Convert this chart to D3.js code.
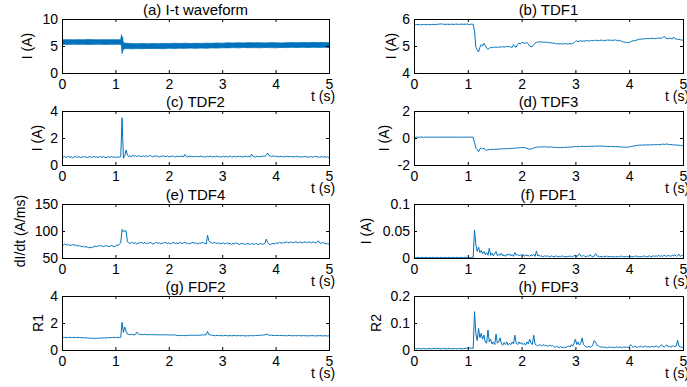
<!DOCTYPE html>
<html>
<head>
<meta charset="utf-8">
<script src="https://cdn.jsdelivr.net/npm/d3@7"></script>
<style>
  html, body { margin: 0; padding: 0; background: #fff; }
  svg { display: block; font-family: "Liberation Sans", Arial, Helvetica, sans-serif; }
</style>
</head>
<body>
<svg id="chart" width="687" height="387"></svg>
<script>
// (a) raw waveform, drawn as the envelope of the noisy band
const waveTime = [0, 0.1, 0.2, 0.3, 0.4, 0.5, 0.6, 0.7, 0.8, 0.9, 1.0, 1.1,
  1.115, 1.125, 1.135, 1.145, 1.16, 1.18, 1.2,
  1.3, 1.4, 1.5, 1.6, 1.7, 1.8, 1.9, 2.0, 2.1, 2.2, 2.3, 2.4, 2.5, 2.6, 2.7, 2.8, 2.9, 3.0, 3.1,
  3.2, 3.3, 3.4, 3.5, 3.6, 3.7, 3.8, 3.9, 4.0, 4.1, 4.2, 4.3, 4.4, 4.5, 4.6, 4.7, 4.8, 4.9, 5.0];
const waveUpper = [6.15, 6.18, 6.14, 6.17, 6.15, 6.19, 6.16, 6.14, 6.18, 6.15, 6.17, 6.16,
  7.1, 6.3, 6.7, 5.7, 5.6, 5.5, 5.5,
  5.45, 5.42, 5.45, 5.40, 5.44, 5.42, 5.47, 5.45, 5.50, 5.47, 5.52, 5.45, 5.50, 5.48, 5.53, 5.50, 5.55, 5.52, 5.58,
  5.55, 5.60, 5.57, 5.62, 5.58, 5.60, 5.56, 5.62, 5.60, 5.55, 5.60, 5.63, 5.60, 5.65, 5.62, 5.66, 5.63, 5.65, 5.62];
const waveLower = [5.32, 5.30, 5.34, 5.31, 5.33, 5.29, 5.32, 5.34, 5.30, 5.33, 5.31, 5.32,
  5.0, 3.6, 4.0, 4.3, 4.45, 4.5, 4.55,
  4.48, 4.52, 4.50, 4.55, 4.52, 4.56, 4.50, 4.58, 4.55, 4.60, 4.57, 4.62, 4.58, 4.63, 4.60, 4.65, 4.62, 4.68, 4.65,
  4.70, 4.66, 4.72, 4.68, 4.70, 4.67, 4.72, 4.70, 4.66, 4.73, 4.70, 4.75, 4.72, 4.76, 4.73, 4.77, 4.74, 4.76, 4.73];

// the other series are sampled every 0.025 s from 0 to 5 s
const tdf1 = [
  5.78,5.79,5.79,5.80,5.79,5.78,5.79,5.80,5.80,5.79,5.79,5.80,5.79,5.79,5.80,5.80,5.79,5.80,5.81,5.81,
  5.82,5.81,5.81,5.80,5.80,5.81,5.80,5.80,5.81,5.80,5.80,5.81,5.81,5.80,5.80,5.81,5.81,5.80,5.81,5.81,
  5.81,5.80,5.80,5.81,5.80,5.55,4.95,4.85,4.78,4.95,5.05,5.00,5.10,5.02,4.92,4.88,4.92,4.95,4.93,4.96,
  4.95,4.97,4.94,4.96,4.97,4.95,4.98,4.96,4.97,4.99,4.97,4.98,4.96,4.95,5.05,4.98,4.96,5.06,5.10,5.08,
  5.12,5.13,5.10,5.11,5.12,5.08,5.00,4.97,4.98,5.05,5.10,5.13,5.15,5.14,5.16,5.15,5.14,5.15,5.13,5.14,
  5.13,5.12,5.12,5.10,5.11,5.09,5.08,5.09,5.07,5.08,5.08,5.07,5.09,5.08,5.07,5.08,5.09,5.08,5.10,5.12,
  5.17,5.19,5.16,5.18,5.20,5.17,5.19,5.18,5.20,5.19,5.18,5.20,5.21,5.19,5.20,5.22,5.19,5.21,5.20,5.22,
  5.21,5.19,5.22,5.20,5.23,5.21,5.22,5.20,5.22,5.21,5.23,5.20,5.19,5.21,5.18,5.16,5.15,5.14,5.13,5.12,
  5.13,5.15,5.18,5.20,5.19,5.21,5.23,5.24,5.26,5.25,5.26,5.27,5.26,5.28,5.27,5.28,5.27,5.29,5.28,5.27,
  5.28,5.29,5.30,5.28,5.29,5.31,5.36,5.30,5.28,5.27,5.29,5.28,5.26,5.33,5.27,5.26,5.25,5.24,5.23,5.22,5.22];

const tdf2 = [
  0.62,0.58,0.65,0.55,0.60,0.63,0.57,0.61,0.52,0.59,0.64,0.56,0.60,0.62,0.55,0.58,0.63,0.57,0.61,0.54,
  0.60,0.62,0.56,0.59,0.64,0.58,0.61,0.55,0.60,0.63,0.57,0.62,0.59,0.53,0.60,0.61,0.56,0.62,0.58,0.60,
  0.57,0.55,0.60,0.58,0.62,3.50,0.50,0.70,1.10,0.75,0.62,0.68,0.60,0.72,0.64,0.70,0.62,0.66,0.71,0.60,
  0.65,0.68,0.62,0.70,0.61,0.66,0.72,0.63,0.60,0.67,0.64,0.69,0.62,0.58,0.66,0.63,0.70,0.61,0.64,0.67,
  0.60,0.65,0.62,0.68,0.63,0.59,0.66,0.61,0.64,0.62,0.67,0.60,0.78,0.63,0.58,0.65,0.62,0.66,0.60,0.64,
  0.61,0.66,0.59,0.63,0.68,0.60,0.64,0.57,0.62,0.65,0.60,0.67,0.62,0.59,0.64,0.61,0.66,0.60,0.63,0.58,
  0.62,0.66,0.60,0.64,0.58,0.63,0.67,0.61,0.59,0.65,0.62,0.60,0.66,0.61,0.64,0.58,0.63,0.62,0.66,0.60,
  0.64,0.61,0.80,0.65,0.62,0.58,0.66,0.63,0.60,0.65,0.62,0.68,0.64,0.72,0.88,0.70,0.66,0.63,0.68,0.64,
  0.66,0.61,0.64,0.60,0.65,0.62,0.58,0.63,0.61,0.66,0.60,0.64,0.62,0.59,0.63,0.61,0.65,0.60,0.62,0.58,
  0.62,0.60,0.64,0.59,0.61,0.57,0.63,0.60,0.58,0.62,0.65,0.59,0.61,0.56,0.60,0.63,0.58,0.62,0.57,0.60,0.55];

const tdf3 = [
  0.04,0.05,0.06,0.05,0.06,0.07,0.06,0.05,0.06,0.06,0.07,0.06,0.06,0.07,0.06,0.06,0.07,0.06,0.06,0.07,
  0.07,0.06,0.06,0.07,0.06,0.06,0.06,0.07,0.06,0.06,0.06,0.07,0.06,0.06,0.07,0.06,0.06,0.06,0.07,0.06,
  0.06,0.06,0.07,0.06,0.06,-0.35,-0.75,-0.85,-1.02,-0.80,-0.72,-0.82,-0.75,-0.88,-0.92,-0.85,-0.88,-0.84,-0.86,-0.83,
  -0.85,-0.82,-0.84,-0.80,-0.83,-0.81,-0.79,-0.82,-0.78,-0.80,-0.76,-0.79,-0.77,-0.75,-0.78,-0.74,-0.76,-0.72,-0.74,-0.71,
  -0.70,-0.72,-0.71,-0.73,-0.76,-0.80,-0.83,-0.82,-0.78,-0.74,-0.70,-0.68,-0.66,-0.68,-0.67,-0.65,-0.66,-0.64,-0.66,-0.67,
  -0.68,-0.66,-0.67,-0.69,-0.70,-0.68,-0.71,-0.70,-0.72,-0.70,-0.71,-0.69,-0.70,-0.68,-0.69,-0.67,-0.66,-0.68,-0.66,-0.64,
  -0.63,-0.65,-0.62,-0.64,-0.63,-0.61,-0.63,-0.62,-0.64,-0.62,-0.61,-0.63,-0.60,-0.62,-0.61,-0.60,-0.62,-0.60,-0.59,-0.61,
  -0.60,-0.62,-0.61,-0.63,-0.62,-0.64,-0.63,-0.62,-0.64,-0.63,-0.65,-0.64,-0.66,-0.65,-0.67,-0.66,-0.68,-0.67,-0.69,-0.67,
  -0.66,-0.64,-0.62,-0.60,-0.58,-0.56,-0.55,-0.53,-0.52,-0.54,-0.52,-0.51,-0.53,-0.51,-0.50,-0.52,-0.50,-0.49,-0.51,-0.50,
  -0.49,-0.50,-0.48,-0.50,-0.47,-0.45,-0.48,-0.46,-0.44,-0.47,-0.49,-0.48,-0.50,-0.52,-0.50,-0.53,-0.52,-0.54,-0.55,-0.56,-0.57];

const tdf4 = [
  75,74,76,75,74,75,73,74,75,74,73,74,72,73,72,71,72,70,71,70,
  69,70,69,70,71,72,71,73,72,73,72,71,72,73,72,71,72,73,72,71,
  72,74,73,76,78,103,98,101,100,80,78,77,79,78,77,78,76,78,77,79,
  78,77,79,76,78,77,79,78,76,77,78,79,77,78,76,78,77,79,78,77,
  78,76,77,79,78,77,78,76,79,78,77,78,79,77,78,76,77,78,79,77,
  78,77,76,78,77,79,78,77,76,92,82,79,78,77,79,78,77,78,76,77,
  77,78,76,77,78,76,77,75,77,76,78,77,76,75,77,76,77,75,76,77,
  76,75,77,76,75,77,76,75,76,77,75,76,77,85,79,76,75,76,77,76,
  77,78,77,79,78,77,79,78,80,79,78,79,80,78,79,80,79,78,80,79,
  78,79,80,79,78,80,79,78,80,79,78,79,82,78,77,79,78,77,76,77,75];

const fdf1 = [
  0.001,0.0008,0.0012,0.001,0.0009,0.0011,0.001,0.0008,0.0012,0.001,0.0009,0.0011,0.001,0.0008,0.0012,0.001,0.0009,0.0011,0.001,0.0008,
  0.0012,0.001,0.0009,0.0011,0.001,0.0008,0.0012,0.001,0.0009,0.0011,0.001,0.0008,0.0012,0.001,0.0009,0.0011,0.001,0.0008,0.0012,0.001,
  0.0009,0.0011,0.001,0.0012,0.001,0.052,0.025,0.012,0.020,0.010,0.014,0.008,0.012,0.006,0.010,0.005,0.018,0.005,0.009,0.004,
  0.008,0.012,0.004,0.007,0.005,0.009,0.004,0.006,0.003,0.007,0.005,0.008,0.004,0.006,0.003,0.010,0.005,0.007,0.004,0.006,
  0.004,0.007,0.003,0.006,0.004,0.005,0.003,0.006,0.004,0.007,0.003,0.013,0.004,0.005,0.003,0.004,0.002,0.004,0.003,0.004,
  0.003,0.002,0.004,0.003,0.002,0.003,0.004,0.002,0.003,0.002,0.004,0.003,0.002,0.003,0.002,0.003,0.004,0.002,0.003,0.004,
  0.005,0.003,0.004,0.008,0.004,0.003,0.005,0.003,0.002,0.004,0.003,0.006,0.003,0.002,0.004,0.008,0.004,0.003,0.002,0.003,
  0.002,0.003,0.002,0.004,0.002,0.003,0.002,0.003,0.002,0.002,0.003,0.002,0.003,0.002,0.004,0.002,0.003,0.002,0.003,0.002,
  0.003,0.002,0.003,0.002,0.003,0.004,0.002,0.003,0.002,0.003,0.002,0.004,0.003,0.002,0.003,0.004,0.002,0.003,0.004,0.003,
  0.004,0.003,0.005,0.003,0.004,0.003,0.005,0.004,0.003,0.005,0.004,0.003,0.005,0.004,0.006,0.003,0.005,0.007,0.003,0.005,0.004];

const fdf2 = [
  0.93,0.92,0.94,0.93,0.92,0.93,0.94,0.92,0.93,0.92,0.93,0.94,0.92,0.93,0.91,0.92,0.90,0.91,0.90,0.89,
  0.88,0.87,0.88,0.86,0.87,0.86,0.87,0.88,0.87,0.88,0.89,0.90,0.89,0.90,0.91,0.92,0.91,0.92,0.93,0.92,
  0.93,0.92,0.94,0.93,0.94,2.05,1.30,1.70,1.40,1.18,1.15,1.13,1.16,1.14,1.12,1.15,1.32,1.20,1.16,1.14,
  1.15,1.13,1.16,1.14,1.12,1.15,1.13,1.14,1.12,1.15,1.13,1.11,1.14,1.12,1.13,1.11,1.14,1.12,1.13,1.11,
  1.12,1.10,1.13,1.11,1.12,1.10,1.08,1.07,1.08,1.06,1.07,1.08,1.06,1.07,1.09,1.08,1.10,1.09,1.10,1.08,
  1.09,1.10,1.08,1.09,1.10,1.12,1.11,1.13,1.12,1.38,1.15,1.12,1.10,1.09,1.07,1.06,1.08,1.07,1.06,1.08,
  1.05,1.06,1.08,1.07,1.05,1.06,1.07,1.05,1.06,1.08,1.06,1.05,1.07,1.06,1.05,1.07,1.06,1.05,1.04,1.06,
  1.05,1.06,1.07,1.05,1.06,1.08,1.07,1.08,1.10,1.09,1.11,1.10,1.12,1.18,1.14,1.10,1.09,1.10,1.08,1.07,
  1.08,1.07,1.08,1.06,1.07,1.08,1.06,1.07,1.05,1.06,1.08,1.07,1.06,1.05,1.07,1.06,1.05,1.07,1.06,1.05,
  1.06,1.07,1.05,1.06,1.04,1.06,1.05,1.07,1.06,1.05,1.04,1.06,1.05,1.07,1.06,1.05,1.04,1.06,1.05,1.04,1.05];

const fdf3 = [
  0.005,0.006,0.004,0.005,0.006,0.005,0.004,0.006,0.005,0.004,0.005,0.006,0.005,0.004,0.005,0.006,0.004,0.005,0.006,0.005,
  0.004,0.005,0.006,0.005,0.004,0.005,0.006,0.004,0.005,0.004,0.006,0.005,0.004,0.005,0.006,0.005,0.004,0.006,0.005,0.006,
  0.007,0.008,0.006,0.007,0.006,0.142,0.060,0.035,0.080,0.045,0.062,0.040,0.055,0.030,0.025,0.074,0.030,0.040,0.022,0.030,
  0.020,0.059,0.025,0.030,0.045,0.022,0.018,0.028,0.020,0.030,0.018,0.025,0.020,0.030,0.022,0.055,0.025,0.020,0.030,0.022,
  0.028,0.020,0.025,0.018,0.030,0.022,0.040,0.025,0.020,0.055,0.022,0.018,0.015,0.020,0.018,0.015,0.020,0.016,0.018,0.014,
  0.015,0.018,0.014,0.017,0.012,0.010,0.014,0.011,0.009,0.012,0.010,0.008,0.011,0.009,0.013,0.015,0.011,0.020,0.014,0.025,
  0.040,0.020,0.030,0.018,0.025,0.045,0.020,0.015,0.012,0.010,0.014,0.010,0.012,0.020,0.035,0.030,0.018,0.015,0.012,0.010,
  0.012,0.009,0.011,0.010,0.008,0.012,0.010,0.009,0.011,0.008,0.010,0.012,0.009,0.011,0.010,0.008,0.012,0.010,0.011,0.009,
  0.012,0.020,0.014,0.010,0.015,0.012,0.009,0.013,0.011,0.014,0.010,0.012,0.015,0.011,0.013,0.010,0.012,0.014,0.011,0.013,
  0.015,0.012,0.010,0.014,0.020,0.013,0.011,0.015,0.019,0.012,0.014,0.011,0.013,0.016,0.012,0.015,0.036,0.014,0.012,0.010,0.008];

const xTicks = [0, 1, 2, 3, 4, 5];

const panels = [
  { id: 'a', title: '(a) I-t waveform', yLabel: 'I (A)', col: 0, row: 0, yDomain: [0, 10], yTicks: [0, 5, 10], labelX: 26.5 },
  { id: 'b', title: '(b) TDF1', yLabel: 'I (A)', col: 1, row: 0, yDomain: [4, 6], yTicks: [4, 5, 6], values: tdf1, labelX: 391 },
  { id: 'c', title: '(c) TDF2', yLabel: 'I (A)', col: 0, row: 1, yDomain: [0, 4], yTicks: [0, 2, 4], values: tdf2, labelX: 36.5 },
  { id: 'd', title: '(d) TDF3', yLabel: 'I (A)', col: 1, row: 1, yDomain: [-2, 2], yTicks: [-2, 0, 2], values: tdf3, labelX: 383.5 },
  { id: 'e', title: '(e) TDF4', yLabel: 'dI/dt (A/ms)', col: 0, row: 2, yDomain: [50, 150], yTicks: [50, 100, 150], values: tdf4, labelX: 20 },
  { id: 'f', title: '(f) FDF1', yLabel: 'I (A)', col: 1, row: 2, yDomain: [0, 0.1], yTicks: [0, 0.05, 0.1], values: fdf1, labelX: 365.5 },
  { id: 'g', title: '(g) FDF2', yLabel: 'R1', col: 0, row: 3, yDomain: [0, 4], yTicks: [0, 2, 4], values: fdf2, labelX: 37.5 },
  { id: 'h', title: '(h) FDF3', yLabel: 'R2', col: 1, row: 3, yDomain: [0, 0.2], yTicks: [0, 0.1, 0.2], values: fdf3, labelX: 375.5 }
];

// layout
const colLeft = [62, 414];
const colWidth = [267, 269];
const rowTop = [19, 111, 204, 296];
const plotH = 54;
const lineColor = '#0072BD';
const tickFont = 14;
const titleFont = 15;

const svg = d3.select('#chart');

panels.forEach(p => {
  const left = colLeft[p.col], top = rowTop[p.row], w = colWidth[p.col];
  const bottom = top + plotH;

  const x = d3.scaleLinear().domain([0, 5]).range([left, left + w]);
  const y = d3.scaleLinear().domain(p.yDomain).range([bottom, top]);

  const g = svg.append('g').attr('class', 'panel-' + p.id);

  g.append('clipPath').attr('id', 'clip-' + p.id)
    .append('rect')
    .attr('x', left).attr('y', top)
    .attr('width', w).attr('height', plotH);

  const plot = g.append('g').attr('clip-path', `url(#clip-${p.id})`);

  if (p.id === 'a') {
    const rows = waveTime.map((t, i) => ({ t, hi: waveUpper[i], lo: waveLower[i] }));
    const area = d3.area()
      .x(d => x(d.t))
      .y0(d => y(d.lo))
      .y1(d => y(d.hi));
    plot.append('path')
      .datum(rows)
      .attr('fill', lineColor)
      .attr('stroke', lineColor)
      .attr('stroke-width', 0.8)
      .attr('d', area);
  } else {
    const n = p.values.length;
    const line = d3.line()
      .x((d, i) => x(i * 5 / (n - 1)))
      .y(d => y(d));
    plot.append('path')
      .datum(p.values)
      .attr('fill', 'none')
      .attr('stroke', lineColor)
      .attr('stroke-width', 1)
      .attr('stroke-linejoin', 'round')
      .attr('d', line);
  }

  // inward ticks on all four sides
  const fmt = d => String(d);

  const xb = g.append('g')
    .attr('transform', `translate(0,${bottom})`)
    .call(d3.axisBottom(x).tickValues(xTicks).tickSize(-3).tickPadding(6).tickFormat(fmt));
  const xt = g.append('g')
    .attr('transform', `translate(0,${top})`)
    .call(d3.axisTop(x).tickValues(xTicks).tickSize(-3).tickFormat(''));
  const yl = g.append('g')
    .attr('transform', `translate(${left},0)`)
    .call(d3.axisLeft(y).tickValues(p.yTicks).tickSize(-3).tickPadding(4).tickFormat(fmt));
  const yr = g.append('g')
    .attr('transform', `translate(${left + w},0)`)
    .call(d3.axisRight(y).tickValues(p.yTicks).tickSize(-3).tickFormat(''));

  [xb, xt, yl, yr].forEach(ax => {
    ax.select('.domain').remove();
    ax.selectAll('line').attr('stroke', '#000');
    ax.selectAll('text')
      .attr('fill', '#000')
      .style('font-size', tickFont + 'px')
      .style('font-family', '"Liberation Sans", Arial, sans-serif');
  });

  // frame
  g.append('rect')
    .attr('x', left).attr('y', top)
    .attr('width', w).attr('height', plotH)
    .attr('fill', 'none')
    .attr('stroke', '#000')
    .attr('stroke-width', 1)
    .attr('shape-rendering', 'crispEdges');

  // title
  g.append('text')
    .attr('x', left + w / 2)
    .attr('y', top - 4)
    .attr('text-anchor', 'middle')
    .style('font-size', titleFont + 'px')
    .text(p.title);

  // y label
  g.append('text')
    .attr('transform', `translate(${p.labelX},${top + plotH / 2}) rotate(-90)`)
    .attr('text-anchor', 'middle')
    .attr('dominant-baseline', 'central')
    .style('font-size', tickFont + 'px')
    .text(p.yLabel);

  // x label, at the right end under the tick labels
  g.append('text')
    .attr('x', left + w - 6)
    .attr('y', bottom + 28)
    .attr('text-anchor', 'middle')
    .style('font-size', tickFont + 'px')
    .text('t (s)');
});
</script>
</body>
</html>
